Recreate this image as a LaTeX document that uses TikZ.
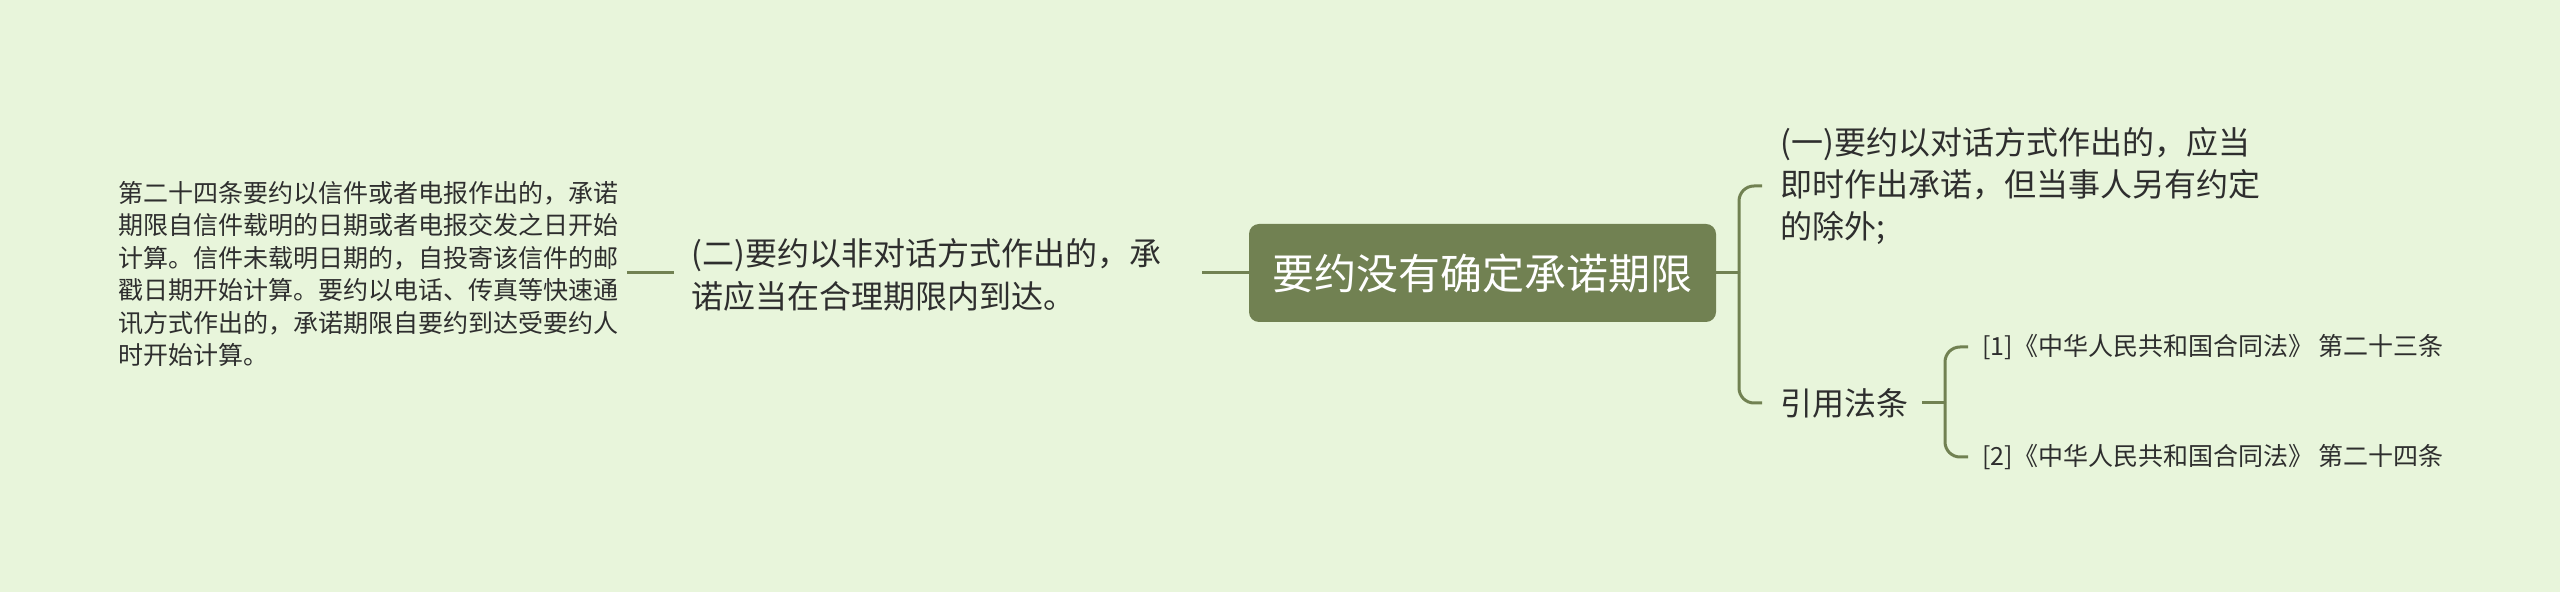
\documentclass[tikz,border=0pt]{standalone}
\usepackage{fontspec}
\setmainfont{Noto Sans CJK SC}
\definecolor{bg}{HTML}{E8F5DB}
\definecolor{olive}{HTML}{718152}
\definecolor{txt}{HTML}{2E2E2E}
\begin{document}
\begin{tikzpicture}[x=0.5pt,y=-0.5pt,
  conn/.style={draw=olive,line width=1.5pt},
  leaf/.style={anchor=west,inner sep=0pt,align=left,text=txt},
  big/.style={font=\fontsize{16}{21.2}\selectfont},
  small/.style={font=\fontsize{12.5}{16.25}\selectfont},
]
\fill[bg] (0,0) rectangle (2560,592);
\useasboundingbox (0,0) rectangle (2560,592);
\node[fill=olive,rounded corners=5pt,minimum width=233.5pt,minimum height=49pt,inner sep=0pt,text=white,font=\fontsize{21}{25}\selectfont] (root) at (1482.5,273) {要约没有确定承诺期限};

\node[leaf,big] (n2) at (691,275) {(二)要约以非对话方式作出的，承\\诺应当在合理期限内到达。};
\node[leaf,small] (n3) at (118,274) {第二十四条要约以信件或者电报作出的，承诺\\期限自信件载明的日期或者电报交发之日开始\\计算。信件未载明日期的，自投寄该信件的邮\\戳日期开始计算。要约以电话、传真等快速通\\讯方式作出的，承诺期限自要约到达受要约人\\时开始计算。};
\node[leaf,big] (n1) at (1780,186) {(一)要约以对话方式作出的，应当\\即时作出承诺，但当事人另有约定\\的除外;};
\node[leaf,big] (law) at (1780,403) {引用法条};
\node[leaf,small] (l1) at (1982,347) {[1]《中华人民共和国合同法》 第二十三条};
\node[leaf,small] (l2) at (1982,457) {[2]《中华人民共和国合同法》 第二十四条};

\coordinate (a1) at (1202,273);
\draw[conn] (root.west) -- (a1);
\coordinate (a2) at (627,273);
\coordinate (a3) at (674,273);
\draw[conn] (a2) -- (a3);

\coordinate (s1) at (1739,273);
\draw[conn] (root.east) -- (s1);
\draw[conn,rounded corners=7.5pt,shorten >=9pt] (s1) |- (n1.west);
\draw[conn,rounded corners=7.5pt,shorten >=9pt] (s1) |- (law.west);

\coordinate (b1) at (1922,403);
\coordinate (s2) at (1945,403);
\draw[conn] (b1) -- (s2);
\draw[conn,rounded corners=7.5pt,shorten >=7pt] (s2) |- (l1.west);
\draw[conn,rounded corners=7.5pt,shorten >=7pt] (s2) |- (l2.west);
\end{tikzpicture}
\end{document}
